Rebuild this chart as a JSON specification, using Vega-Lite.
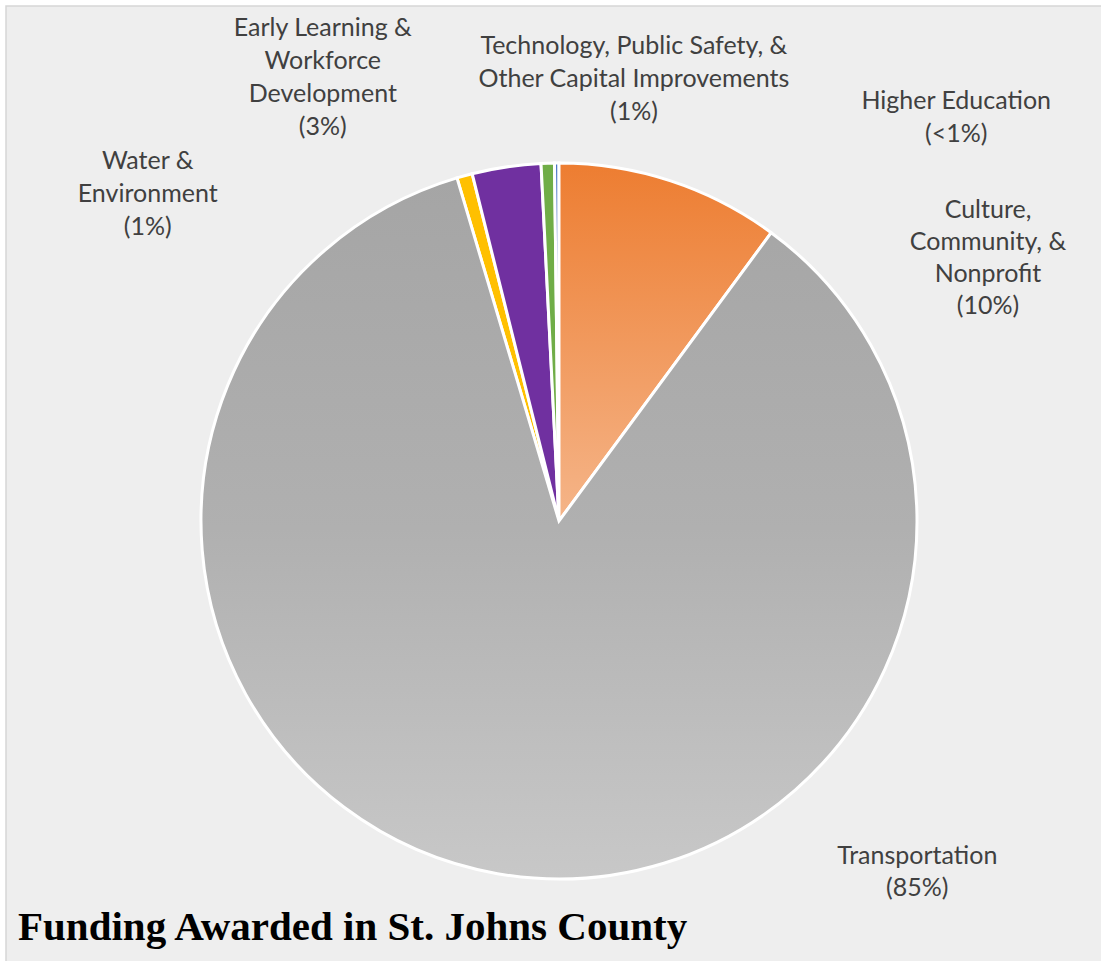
{
  "$schema": "https://vega.github.io/schema/vega-lite/v6.json",
  "autosize": {"type": "none"},
  "width": 1106,
  "height": 1030,
  "padding": {"left": 6, "top": 6, "right": -11, "bottom": -75},
  "background": "#ffffff",
  "view": {"fill": "#eeeeee", "stroke": "#d6d6d6", "strokeWidth": 1.5},
  "config": {"view": {"fill": "#eeeeee", "stroke": "#d6d6d6", "strokeWidth": 1.5}},
  "title": {
    "text": "Funding Awarded in St. Johns County",
    "orient": "bottom",
    "anchor": "start",
    "frame": "group",
    "font": "Liberation Serif",
    "fontSize": 41,
    "fontWeight": "bold",
    "color": "#000000",
    "offset": 0,
    "dx": 12,
    "dy": -128
  },
  "data": {
    "values": [
      {"category": "Culture, Community, & Nonprofit", "value": 10.1, "order": 1, "label": "Culture,\nCommunity, &\nNonprofit\n(10%)"},
      {"category": "Transportation", "value": 85.3, "order": 2, "label": "Transportation\n(85%)"},
      {"category": "Water & Environment", "value": 0.7, "order": 3, "label": "Water &\nEnvironment\n(1%)"},
      {"category": "Early Learning & Workforce Development", "value": 3.1, "order": 4, "label": "Early Learning &\nWorkforce\nDevelopment\n(3%)"},
      {"category": "Technology, Public Safety, & Other Capital Improvements", "value": 0.6, "order": 5, "label": "Technology, Public Safety, &\nOther Capital Improvements\n(1%)"},
      {"category": "Higher Education", "value": 0.2, "order": 6, "label": "Higher Education\n(<1%)"}
    ]
  },
  "transform": [
    {"stack": "value", "groupby": [], "sort": [{"field": "order", "order": "ascending"}], "as": ["v0", "v1"]}
  ],
  "layer": [
    {
      "transform": [{"filter": "datum.order >= 3"}],
      "mark": {"type": "arc", "outerRadius": 358, "stroke": "#ffffff", "strokeWidth": 3},
      "encoding": {
        "theta": {"field": "v0", "type": "quantitative", "stack": null, "scale": {"domain": [0, 100]}},
        "theta2": {"field": "v1"},
        "color": {
          "field": "category",
          "type": "nominal",
          "legend": null,
          "scale": {
            "domain": ["Water & Environment", "Early Learning & Workforce Development", "Technology, Public Safety, & Other Capital Improvements", "Higher Education"],
            "range": ["#FFC000", "#7030A0", "#70AD47", "#4472C4"]
          }
        }
      }
    },
    {
      "transform": [{"filter": "datum.order == 1"}],
      "mark": {
        "type": "arc", "outerRadius": 358, "stroke": "#ffffff", "strokeWidth": 3,
        "fill": {"gradient": "linear", "x1": 0, "y1": 0, "x2": 0, "y2": 1,
          "stops": [{"offset": 0, "color": "#ED7D31"}, {"offset": 1, "color": "#F5B589"}]}
      },
      "encoding": {
        "theta": {"field": "v0", "type": "quantitative", "stack": null, "scale": {"domain": [0, 100]}},
        "theta2": {"field": "v1"}
      }
    },
    {
      "transform": [{"filter": "datum.order == 2"}],
      "mark": {
        "type": "arc", "outerRadius": 358, "stroke": "#ffffff", "strokeWidth": 3,
        "fill": {"gradient": "linear", "x1": 0, "y1": 0, "x2": 0, "y2": 1,
          "stops": [{"offset": 0, "color": "#A5A5A5"}, {"offset": 0.5, "color": "#B0B0B0"}, {"offset": 1, "color": "#C8C8C8"}]}
      },
      "encoding": {
        "theta": {"field": "v0", "type": "quantitative", "stack": null, "scale": {"domain": [0, 100]}},
        "theta2": {"field": "v1"}
      }
    },
    {
      "transform": [{"filter": "datum.order == 1"}],
      "mark": {"type": "text", "radius": 380, "dx": 429, "dy": 69, "align": "center", "baseline": "middle", "font": "Lato", "fontSize": 25, "lineHeight": 32, "lineBreak": "\n", "color": "#404040"},
      "encoding": {
        "theta": {"field": "v0", "type": "quantitative", "stack": null, "scale": {"domain": [0, 100]}},
        "text": {"field": "label"}
      }
    },
    {
      "transform": [{"filter": "datum.order == 2"}],
      "mark": {"type": "text", "radius": 380, "dx": 133, "dy": 641, "align": "center", "baseline": "middle", "font": "Lato", "fontSize": 25, "lineHeight": 32, "lineBreak": "\n", "color": "#404040"},
      "encoding": {
        "theta": {"field": "v0", "type": "quantitative", "stack": null, "scale": {"domain": [0, 100]}},
        "text": {"field": "label"}
      }
    },
    {
      "transform": [{"filter": "datum.order == 3"}],
      "mark": {"type": "text", "radius": 380, "dx": -303, "dy": 4, "align": "center", "baseline": "middle", "font": "Lato", "fontSize": 25, "lineHeight": 33, "lineBreak": "\n", "color": "#404040"},
      "encoding": {
        "theta": {"field": "v0", "type": "quantitative", "stack": null, "scale": {"domain": [0, 100]}},
        "text": {"field": "label"}
      }
    },
    {
      "transform": [{"filter": "datum.order == 4"}],
      "mark": {"type": "text", "radius": 380, "dx": -144, "dy": -124, "align": "center", "baseline": "middle", "font": "Lato", "fontSize": 25, "lineHeight": 33, "lineBreak": "\n", "color": "#404040"},
      "encoding": {
        "theta": {"field": "v0", "type": "quantitative", "stack": null, "scale": {"domain": [0, 100]}},
        "text": {"field": "label"}
      }
    },
    {
      "transform": [{"filter": "datum.order == 5"}],
      "mark": {"type": "text", "radius": 380, "dx": 94, "dy": -95, "align": "center", "baseline": "middle", "font": "Lato", "fontSize": 25, "lineHeight": 33, "lineBreak": "\n", "color": "#404040"},
      "encoding": {
        "theta": {"field": "v0", "type": "quantitative", "stack": null, "scale": {"domain": [0, 100]}},
        "text": {"field": "label"}
      }
    },
    {
      "transform": [{"filter": "datum.order == 6"}],
      "mark": {"type": "text", "radius": 380, "dx": 402, "dy": -40, "align": "center", "baseline": "middle", "font": "Lato", "fontSize": 25, "lineHeight": 33, "lineBreak": "\n", "color": "#404040"},
      "encoding": {
        "theta": {"field": "v0", "type": "quantitative", "stack": null, "scale": {"domain": [0, 100]}},
        "text": {"field": "label"}
      }
    }
  ]
}
